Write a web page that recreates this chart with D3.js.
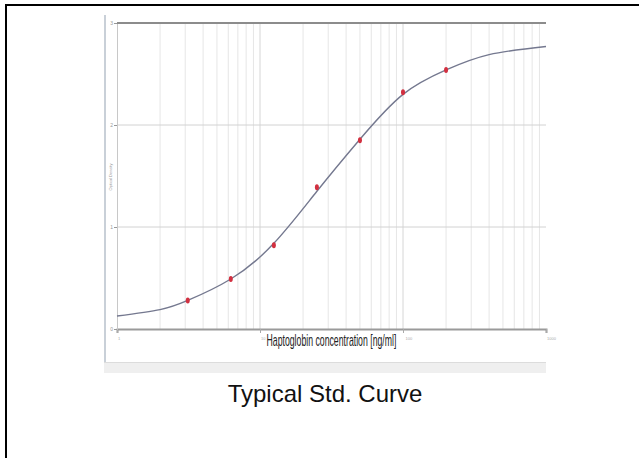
<!DOCTYPE html>
<html><head><meta charset="utf-8">
<script src="https://cdn.jsdelivr.net/npm/d3@7"></script>
<style>body{margin:0;background:#fff}svg{display:block}</style>
</head><body>
<svg id="c" width="639" height="458"></svg>
<script>
// standards
const stdConc = [3.125, 6.25, 12.5, 25, 50, 100, 200];
const stdOD   = [0.28, 0.49, 0.82, 1.39, 1.85, 2.32, 2.54];
// fitted curve
const fitConc = [1, 2, 3.125, 6.25, 12.5, 25, 50, 100, 200, 400, 1000];
const fitOD   = [0.127, 0.19, 0.28, 0.49, 0.84, 1.35, 1.86, 2.30, 2.54, 2.69, 2.77];
const xTickVals = [1, 10, 100, 1000];
const xTickLabels = ["1", "10", "100", "1000"];
const yTickVals = [0, 1, 2, 3];
const yTickLabels = ["0", "1", "2", "3"];

const svg = d3.select("#c");
// outer frame
svg.append("line").attr("x1",5).attr("x2",639).attr("y1",5).attr("y2",5).attr("stroke","#000").attr("stroke-width",2);
svg.append("line").attr("x1",6).attr("x2",6).attr("y1",4).attr("y2",458).attr("stroke","#000").attr("stroke-width",2);

// embedded chart frame elements
svg.append("rect").attr("x",104).attr("y",15).attr("width",2).attr("height",358).attr("fill","#c9d0d8");
svg.append("rect").attr("x",104).attr("y",363).attr("width",442).attr("height",10).attr("fill","#efefef");
svg.append("line").attr("x1",104).attr("x2",546).attr("y1",362.5).attr("y2",362.5).attr("stroke","#dcdcdc");

const L = 117, R = 546, T = 23, B = 329;
const x = d3.scaleLog().domain([1, 1000]).range([L, R]);
const y = d3.scaleLinear().domain([0, 3]).range([B, T]);

// minor vertical grid
const minor = [];
for (let d = 1; d < 1000; d *= 10) for (let k = 2; k <= 9; k++) minor.push(d * k);
svg.append("g").selectAll("line").data(minor).join("line")
  .attr("x1", d => x(d)).attr("x2", d => x(d)).attr("y1", T).attr("y2", B)
  .attr("stroke", "#e6e6e6").attr("stroke-width", 1);
svg.append("g").selectAll("line").data([10, 100]).join("line")
  .attr("x1", d => x(d)).attr("x2", d => x(d)).attr("y1", T).attr("y2", B)
  .attr("stroke", "#d6d6d6").attr("stroke-width", 1);
// horizontal grid
svg.append("g").selectAll("line").data([1, 2]).join("line")
  .attr("x1", L).attr("x2", R).attr("y1", d => y(d)).attr("y2", d => y(d))
  .attr("stroke", "#d2d2d2").attr("stroke-width", 1);

// axes
const gx = svg.append("g").attr("transform", `translate(0,${B})`)
  .call(d3.axisBottom(x).tickValues(xTickVals).tickFormat((d,i)=>xTickLabels[i]).tickSize(4).tickPadding(4));
gx.select(".domain").attr("stroke", "#9a9a9a").attr("stroke-width", 2);
gx.selectAll(".tick line").attr("stroke", "#aaa");
gx.selectAll(".tick text").attr("fill", "#aaa").attr("font-size", 4).attr("font-family", "Liberation Sans")
  .attr("text-anchor", "start").attr("dx", (d, i) => i === 2 ? 2 : 0.5);

const gy = svg.append("g").attr("transform", `translate(${L},0)`)
  .call(d3.axisLeft(y).tickValues(yTickVals).tickFormat((d,i)=>yTickLabels[i]).tickSize(3).tickPadding(1));
gy.select(".domain").attr("stroke", "#c8c8c8").attr("stroke-width", 1);
gy.selectAll(".tick line").attr("stroke", "#999");
gy.selectAll(".tick text").attr("fill", "#999").attr("font-size", 5).attr("font-family", "Liberation Sans");

// top border line
svg.append("line").attr("x1", L).attr("x2", R).attr("y1", T).attr("y2", T).attr("stroke", "#8c8c8c").attr("stroke-width", 2);

// curve
const fit = fitConc.map((c, i) => [c, fitOD[i]]);
svg.append("path").datum(fit)
  .attr("d", d3.line().x(d => x(d[0])).y(d => y(d[1])).curve(d3.curveNatural))
  .attr("fill", "none").attr("stroke", "#74788f").attr("stroke-width", 1.4);

// points
const std = stdConc.map((c, i) => [c, stdOD[i]]);
svg.append("g").selectAll("ellipse").data(std).join("ellipse")
  .attr("cx", d => x(d[0])).attr("cy", d => y(d[1])).attr("rx", 2).attr("ry", 3)
  .attr("fill", "#d23040");

// axis titles (condensed by horizontal scaling)
const xt = svg.append("text").attr("x", 0).attr("y", 0)
  .attr("font-family", "Liberation Sans").attr("font-size", 16).attr("fill", "#222")
  .text("Haptoglobin concentration [ng/ml]");
const natW = xt.node().getComputedTextLength();
xt.attr("transform", `translate(266.5,345.5) scale(${130 / natW},1)`);
svg.append("text").attr("transform", "translate(112,177) rotate(-90)").attr("text-anchor", "middle")
  .attr("font-family", "Liberation Sans").attr("font-size", 4).attr("fill", "#999")
  .text("Optical Density");

// caption
svg.append("text").attr("x", 325).attr("y", 402).attr("text-anchor", "middle")
  .attr("font-family", "Liberation Sans, Arial").attr("font-size", 24).attr("fill", "#111")
  .text("Typical Std. Curve");
</script>
</body></html>
